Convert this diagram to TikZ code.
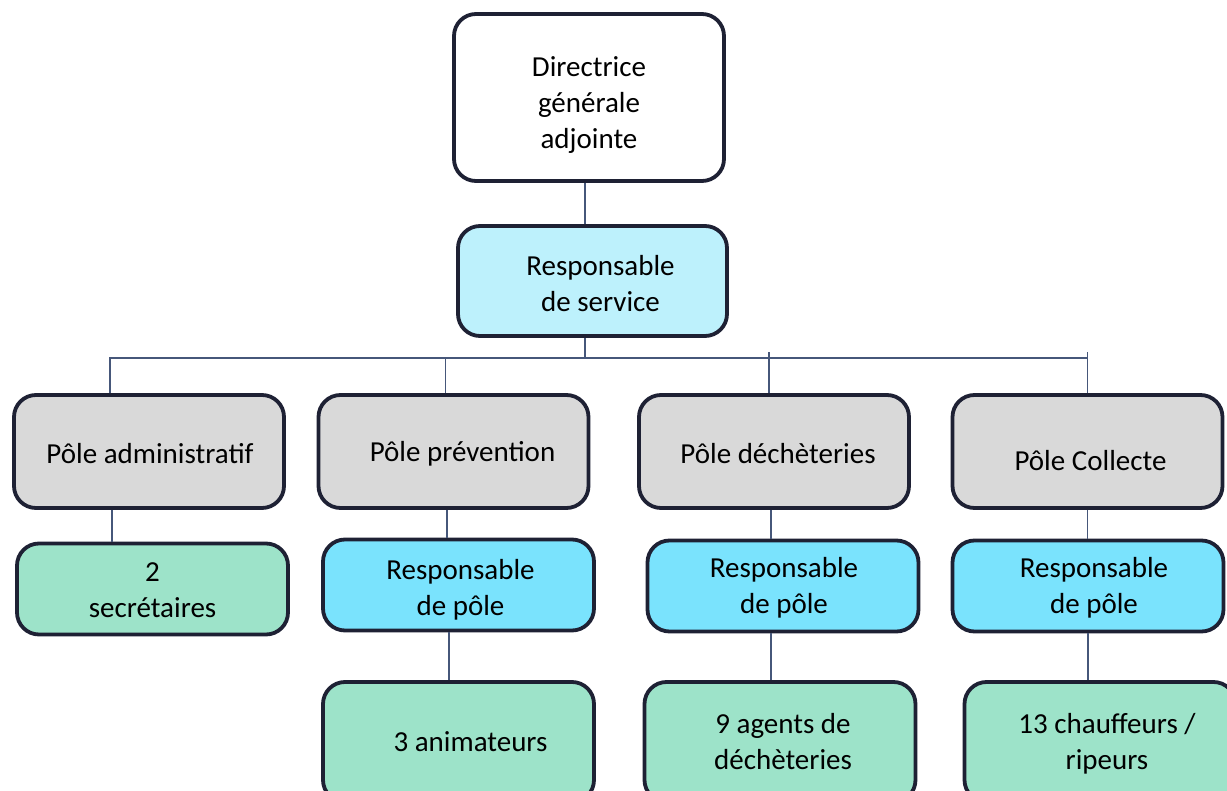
\documentclass[tikz,border=0pt]{standalone}
\usepackage{fontspec}
\setmainfont{Carlito}
\usetikzlibrary{calc}
\definecolor{bord}{HTML}{1E2134}
\definecolor{lien}{HTML}{46577A}
\definecolor{cyanclair}{HTML}{BDF1FC}
\definecolor{cyanfonce}{HTML}{7AE3FD}
\definecolor{gris}{HTML}{D9D9D9}
\definecolor{menthe}{HTML}{9DE3C9}
\tikzset{
  boite/.style={draw=bord,line width=3.8pt,rounded corners=22pt,inner sep=0pt},
  texte/.style={align=center,font=\fontsize{29}{36}\selectfont,inner sep=0pt},
  every label/.style={texte},
  haut/.style={boite,minimum width=270pt,minimum height=167pt},
  pole/.style={boite,fill=gris,minimum width=270pt,minimum height=113pt},
  resp/.style={boite,fill=cyanfonce,minimum width=271pt,minimum height=91pt},
  agents/.style={boite,fill=menthe,minimum width=271pt,minimum height=120pt},
  lien/.style={draw=lien,line width=1.5pt}
}
\begin{document}
\begin{tikzpicture}[x=1pt,y=-1pt]
            \clip (0,0) rectangle (1227,791);
            \fill[white] (0,0) rectangle (1227,791);
            \node[haut,fill=white,label={[yshift=-8pt]center:Directrice\\générale\\adjointe}] (dga) at (589,97.5) {};
            \node[boite,fill=cyanclair,minimum width=269pt,minimum height=110pt,label={[xshift=8pt,yshift=-3pt]center:Responsable\\de service}] (rs) at (592.5,281) {};
            \node[pole,label={[xshift=1pt,yshift=-2pt]center:Pôle administratif}] (adm) at (149,451.5) {};
            \node[pole,label={[xshift=9pt,yshift=-2pt]center:Pôle prévention}] (prev) at (453.5,451.5) {};
            \node[pole,label={[xshift=4pt,yshift=-2pt]center:Pôle déchèteries}] (dech) at (774,451.5) {};
            \node[pole,label={[xshift=3pt,yshift=-9pt]center:Pôle Collecte}] (coll) at (1087.5,451.5) {};
            \node[resp,fill=menthe,label={[yshift=-1pt]center:2\\secrétaires}] (sec) at (152.5,589) {};
            \node[resp,label={[xshift=2pt,yshift=-5pt]center:Responsable\\de pôle}] (rp1) at (458.5,585) {};
            \node[resp,label={[xshift=1pt,yshift=-2pt]center:Responsable\\de pôle}] (rp2) at (783,586) {};
            \node[resp,label={[xshift=6pt,yshift=-2pt]center:Responsable\\de pôle}] (rp3) at (1088,586) {};
            \node[agents,label={[xshift=12pt]center:3 animateurs}] (anim) at (458.5,742) {};
            \node[agents,label={[xshift=3pt]center:9 agents de\\déchèteries}] (ag) at (780,742) {};
            \node[agents,label={[xshift=7pt,yshift=-2pt]center:13 chauffeurs /\\ripeurs}] (chf) at (1100,742) {};
            \coordinate (bus) at ([xshift=-7.5pt]rs.south |- 0,358);
            \draw[lien] ([xshift=-4pt]dga.south) -- ([xshift=-4pt]dga.south |- rs.north);
            \draw[lien] ([xshift=-7.5pt]rs.south) -- (bus);
            \draw[lien] ([xshift=-39pt]adm.north) |- (coll.north |- bus) -- (coll.north);
            \draw[lien] ([xshift=-8pt]prev.north) -- ([xshift=-8pt]prev.north |- bus);
            \draw[lien] ([xshift=-5pt]dech.north) -- ([xshift=-5pt]dech.north |- 0,352);
            \draw[lien] (coll.north |- bus) -- (coll.north |- 0,352);
            \draw[lien] ([xshift=-37pt]adm.south) -- ([xshift=-37pt]adm.south |- sec.north);
            \draw[lien] ([xshift=-6.5pt]prev.south) -- ([xshift=-6.5pt]prev.south |- rp1.north);
            \draw[lien] ([xshift=-3pt]dech.south) -- ([xshift=-3pt]dech.south |- rp2.north);
            \draw[lien] (coll.south) -- (coll.south |- rp3.north);
            \draw[lien] ([xshift=-9.5pt]rp1.south) -- ([xshift=-9.5pt]rp1.south |- anim.north);
            \draw[lien] ([xshift=-12pt]rp2.south) -- ([xshift=-12pt]rp2.south |- ag.north);
            \draw[lien] (rp3.south) -- (rp3.south |- chf.north);
    \end{tikzpicture}
\end{document}
